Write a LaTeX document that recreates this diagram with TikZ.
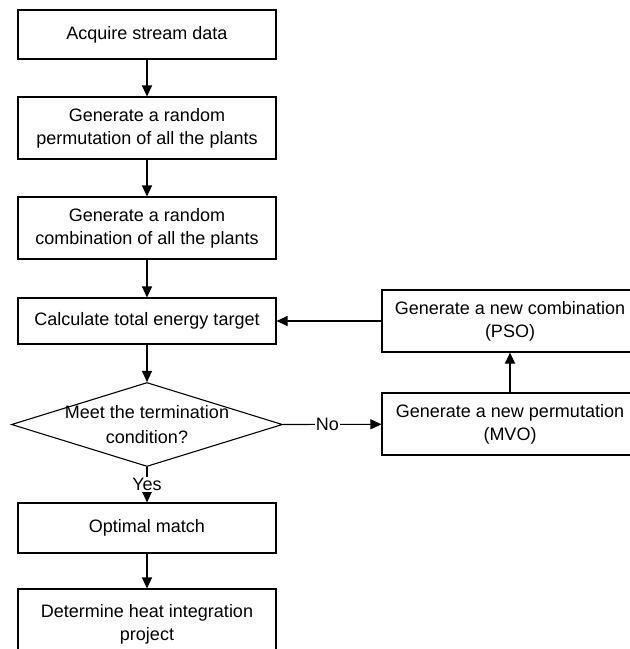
\documentclass[tikz,border=0pt]{standalone}
\usepackage{fontspec}
\setmainfont{Liberation Sans}
\usetikzlibrary{shapes.geometric,arrows.meta}

\tikzset{
  stepbox/.style={draw, line width=1.1pt, minimum width=258pt, inner sep=0pt, align=center, font=\fontsize{18}{23}\selectfont},
  flow/.style={line width=1.1pt, -{Triangle[length=11pt,width=10pt]}},
  lbl/.style={fill=white, inner sep=1pt, font=\fontsize{18}{21}\selectfont}
}

\begin{document}
\begin{tikzpicture}[x=1pt, y=-1pt]
\useasboundingbox (0,0) rectangle (630,649); % page size

\node[stepbox, minimum height=49pt] (acquire) at (147,34.5) {Acquire stream data}; % start
\node[stepbox, minimum height=62pt] (perm) at (147,128) {Generate a random\\permutation of all the plants};
\node[stepbox, minimum height=62pt] (comb) at (147,228) {Generate a random\\combination of all the plants};
\node[stepbox, minimum height=46pt] (calc) at (147,321) {Calculate total energy target};
\node[draw, diamond, line width=1.1pt, inner sep=0pt, minimum width=271pt, minimum height=84pt] (check) at (147,424.5) {}; % decision
\node[align=center, font=\fontsize{18}{25}\selectfont] (checktext) at (check) {Meet the termination\\condition?};
\node[stepbox, minimum height=50pt] (optimal) at (147,528) {Optimal match};
\node[stepbox, minimum height=70pt] (project) at (147,624) {Determine heat integration\\project}; % end
\node[stepbox, minimum width=256pt, minimum height=62pt] (pso) at (510,321) {Generate a new combination\\(PSO)};
\node[stepbox, minimum width=256pt, minimum height=62pt] (mvo) at (510,424) {Generate a new permutation\\(MVO)};

\draw[flow] (acquire) -- (perm);
\draw[flow] (perm) -- (comb);
\draw[flow] (comb) -- (calc);
\draw[flow] (calc) -- (check.north);
\draw[flow] (check.east) -- node[lbl, pos=0.45] {No} (mvo); % no branch
\draw[flow] (mvo) -- (pso);
\draw[flow] (pso) -- (calc); % loop back
\draw[flow] (check.south) -- node[lbl] {Yes} (optimal); % yes branch
\draw[flow] (optimal) -- (project);
\end{tikzpicture}
\end{document}
